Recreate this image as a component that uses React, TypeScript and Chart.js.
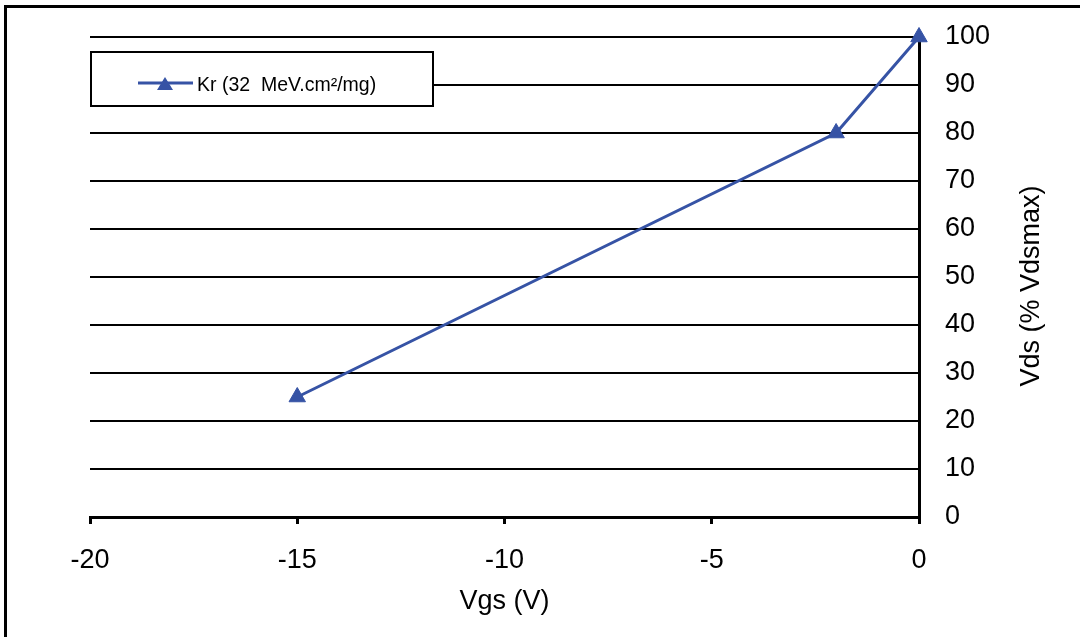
import React, { useEffect, useRef } from "react";
import { Chart, registerables } from "chart.js";

Chart.register(...registerables);

const vgsValues = [-15, -2, 0];
const vdsValues = [25, 80, 100];
const seriesLabel = "Kr (32  MeV.cm²/mg)";
const xTitle = "Vgs (V)";
const yTitle = "Vds (% Vdsmax)";
const xMin = -20;
const xMax = 0;
const xStep = 5;
const yMin = 0;
const yMax = 100;
const yStep = 10;

const FONT = "'Liberation Sans', Arial, Helvetica, sans-serif";
const BLUE = "#3653a5";
const BIG = 27;

const yTitlePlugin = {
  id: "yTitleLeftRotated",
  afterDraw(chart: any) {
    const { ctx, chartArea } = chart;
    ctx.save();
    ctx.translate(1032, (chartArea.top + chartArea.bottom) / 2 + 9);
    ctx.rotate(-Math.PI / 2);
    ctx.font = `${BIG}px ${FONT}`;
    ctx.fillStyle = "#000";
    ctx.textAlign = "center";
    ctx.textBaseline = "middle";
    ctx.fillText(yTitle, 0, 0);
    ctx.restore();
  },
};

const boxLegendPlugin = {
  id: "boxLegend",
  afterDraw(chart: any) {
    const { ctx } = chart;
    const ds = chart.data.datasets[0];
    const x = 91, y = 52, w = 342, h = 54;
    ctx.save();
    ctx.fillStyle = "#fff";
    ctx.fillRect(x, y, w, h);
    ctx.strokeStyle = "#000";
    ctx.lineWidth = 2;
    ctx.strokeRect(x, y, w, h);
    const cy = 83;
    ctx.strokeStyle = ds.borderColor;
    ctx.lineWidth = 3;
    ctx.beginPath();
    ctx.moveTo(138, cy);
    ctx.lineTo(193, cy);
    ctx.stroke();
    ctx.fillStyle = ds.pointBackgroundColor;
    ctx.beginPath();
    ctx.moveTo(165, cy - 6);
    ctx.lineTo(173, cy + 7);
    ctx.lineTo(157, cy + 7);
    ctx.closePath();
    ctx.fill();
    ctx.fillStyle = "#000";
    ctx.font = `19.5px ${FONT}`;
    ctx.textAlign = "left";
    ctx.textBaseline = "middle";
    ctx.fillText(ds.label, 197, 86);
    ctx.restore();
  },
};

export default function App() {
  const canvasRef = useRef<HTMLCanvasElement | null>(null);

  useEffect(() => {
    const canvas = canvasRef.current;
    if (!canvas) return;
    const chart = new Chart(canvas, {
      type: "scatter",
      data: {
        datasets: [
          {
            label: seriesLabel,
            data: vgsValues.map((v, i) => ({ x: v, y: vdsValues[i] })),
            showLine: true,
            borderColor: BLUE,
            backgroundColor: BLUE,
            pointBackgroundColor: BLUE,
            pointBorderColor: BLUE,
            borderWidth: 3,
            pointStyle: "triangle",
            pointRadius: 9.5,
            pointBorderWidth: 1,
            clip: false as any,
          },
        ],
      },
      options: {
        animation: false,
        responsive: false,
        devicePixelRatio: 1,
        layout: { padding: { left: 90, top: 37, right: 0, bottom: 0 } },
        plugins: {
          legend: { display: false },
          tooltip: { enabled: false },
        },
        scales: {
          x: {
            type: "linear",
            position: "bottom",
            min: xMin,
            max: xMax,
            afterFit: (s: any) => {
              s.height = 120;
              s.paddingLeft = 0;
              s.paddingRight = 0;
            },
            ticks: {
              stepSize: xStep,
              color: "#000",
              font: { family: FONT, size: BIG },
              padding: 20,
              maxRotation: 0,
            },
            grid: {
              drawOnChartArea: false,
              drawTicks: true,
              tickLength: 7,
              color: "#000",
              lineWidth: 3,
            },
            border: { display: true, color: "#000", width: 3 },
            title: {
              display: true,
              text: xTitle,
              color: "#000",
              font: { family: FONT, size: BIG },
              padding: { top: 0, bottom: 19 },
            },
          },
          y: {
            type: "linear",
            position: "right",
            min: yMin,
            max: yMax,
            afterFit: (s: any) => {
              s.width = 161;
              s.paddingTop = 0;
              s.paddingBottom = 0;
            },
            ticks: {
              stepSize: yStep,
              color: "#000",
              font: { family: FONT, size: BIG },
              padding: 26,
              crossAlign: "near",
            },
            grid: {
              drawTicks: false,
              color: "#000",
              lineWidth: 2,
            },
            border: { display: true, color: "#000", width: 3 },
            title: { display: false },
          },
        },
      },
      plugins: [yTitlePlugin, boxLegendPlugin],
    });
    return () => chart.destroy();
  }, []);

  return (
    <div
      style={{
        position: "fixed",
        left: 0,
        top: 0,
        width: 1080,
        height: 637,
        background: "#fff",
        overflow: "hidden",
      }}
    >
      <div
        style={{
          position: "absolute",
          left: 4,
          top: 5,
          width: 1100,
          height: 700,
          border: "3px solid #000",
          boxSizing: "border-box",
        }}
      />
      <canvas
        ref={canvasRef}
        width={1080}
        height={637}
        style={{ position: "absolute", left: 0, top: 0, width: 1080, height: 637 }}
      />
    </div>
  );
}
